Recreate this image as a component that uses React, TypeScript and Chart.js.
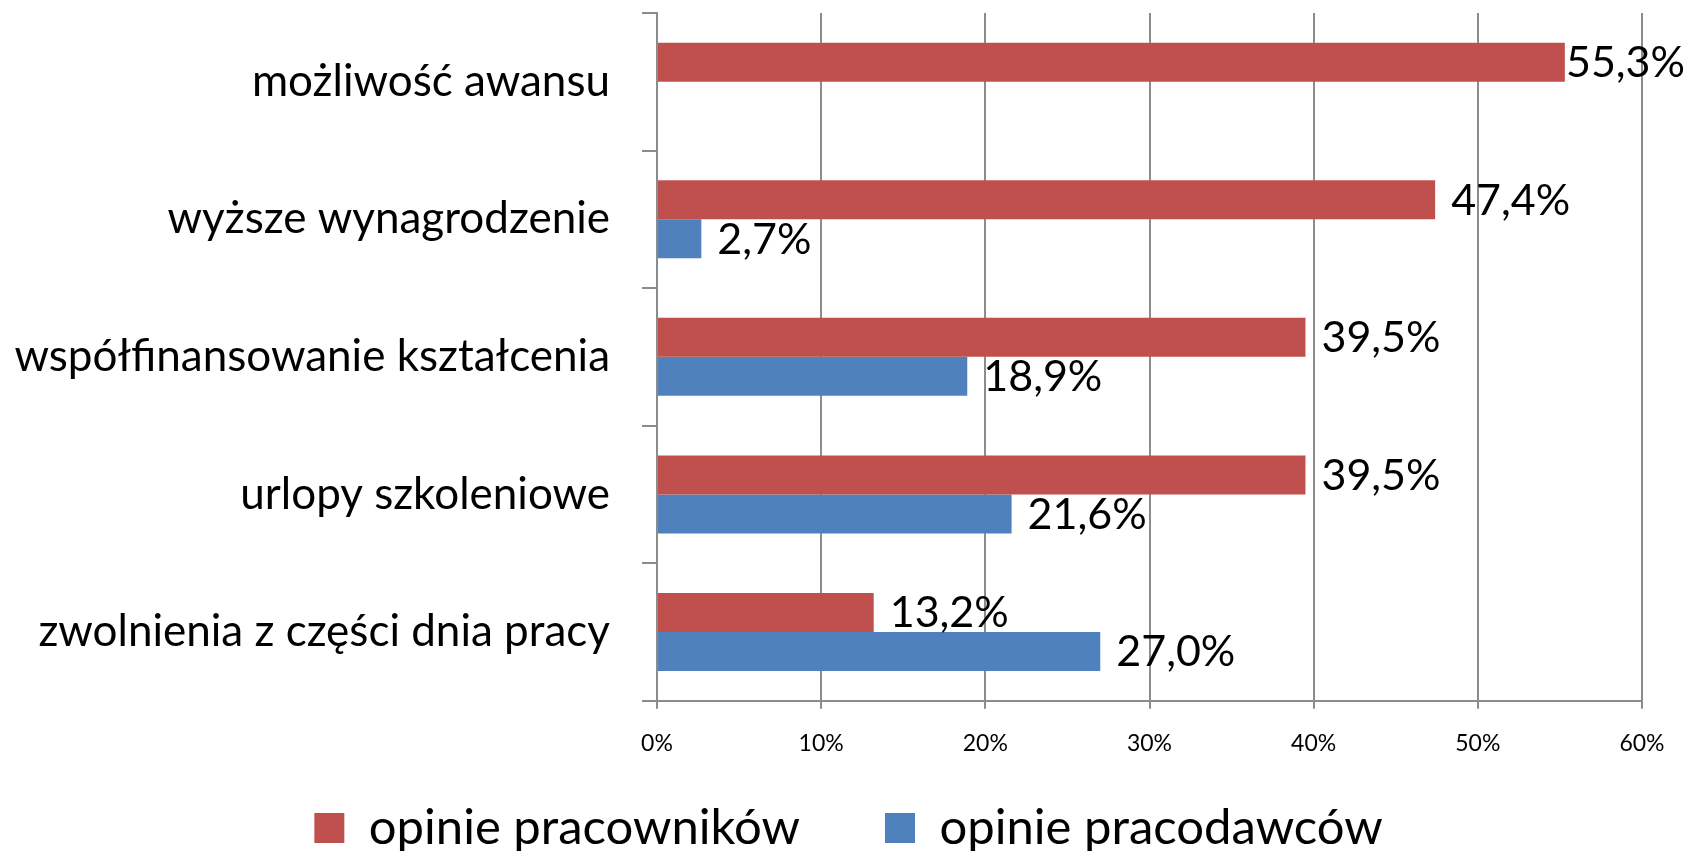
import { useEffect, useRef } from "react";
import { Chart, registerables } from "chart.js";

Chart.register(...registerables);

// ---- data ----
const categories = [
  "możliwość awansu",
  "wyższe wynagrodzenie",
  "współfinansowanie kształcenia",
  "urlopy szkoleniowe",
  "zwolnienia z części dnia pracy",
];
const seriesNames = ["opinie pracowników", "opinie pracodawców"];
const employeeShares: (number | null)[] = [55.3, 47.4, 39.5, 39.5, 13.2];
const employerShares: (number | null)[] = [null, 2.7, 18.9, 21.6, 27.0];
const axisMin = 0;
const axisMax = 60;
const axisStep = 10;

// ---- style / layout ----
const W = 1690;
const FONT = "Lato, 'Open Sans', sans-serif";
const RED = "#C0504D";
const BLUE = "#4F81BD";
const GRID = "#8c8c8c";
const CAT_FONT = 44;
const TICK_FONT = 23;
const VALUE_FONT = 43;
const LEGEND_FONT = 49;
const LEGEND_GAP = 85;
const LEGEND_CENTER = 828;
const PLOT_TOP = 13;
const PLOT_LEFT = 657;
const PLOT_RIGHT = 1642;
const PLOT_BOTTOM = 700.7;
const LEFT_PAD = 7;
const X_AXIS_H = 60;
const LEGEND_H = LEGEND_FONT + LEGEND_GAP + 10;
const H = Math.ceil(PLOT_BOTTOM + X_AXIS_H + LEGEND_H);
const LEGEND_TOP = LEGEND_CENTER - LEGEND_GAP - LEGEND_FONT / 2;

const fmt = (v: number) => v.toFixed(1).replace(".", ",") + "%";

const valueLabels = {
  id: "valueLabels",
  afterDatasetsDraw(chart: any) {
    const ctx = chart.ctx;
    ctx.save();
    ctx.font = `${VALUE_FONT}px ${FONT}`;
    ctx.fillStyle = "#000";
    ctx.textBaseline = "middle";
    ctx.textAlign = "left";
    chart.data.datasets.forEach((ds: any, di: number) => {
      const meta = chart.getDatasetMeta(di);
      meta.data.forEach((el: any, i: number) => {
        const v = ds.data[i];
        if (v == null) return;
        const text = fmt(v);
        const w = ctx.measureText(text).width;
        const x = Math.min(el.x + 16, W - 5 - w);
        ctx.fillText(text, x, el.y + 1);
      });
    });
    ctx.restore();
  },
};

// place the legend row where the reference has it
const legendPlacer = {
  id: "legendPlacer",
  afterLayout(chart: any) {
    const lg = chart.legend;
    if (!lg) return;
    const dy = LEGEND_TOP - lg.top;
    lg.top += dy;
    lg.bottom += dy;
  },
};

export default function App() {
  const ref = useRef<HTMLCanvasElement | null>(null);
  useEffect(() => {
    if (!ref.current) return;
    const chart = new Chart(ref.current, {
      type: "bar",
      data: {
        labels: categories,
        datasets: [
          {
            label: seriesNames[0],
            data: employeeShares,
            backgroundColor: RED,
            borderWidth: 0,
            barPercentage: 1,
            categoryPercentage: 0.567,
          },
          {
            label: seriesNames[1],
            data: employerShares,
            backgroundColor: BLUE,
            borderWidth: 0,
            barPercentage: 1,
            categoryPercentage: 0.567,
          },
        ],
      },
      options: {
        indexAxis: "y",
        responsive: false,
        animation: false,
        layout: { padding: { top: PLOT_TOP, left: LEFT_PAD, right: 0, bottom: 0 } },
        scales: {
          x: {
            type: "linear",
            min: axisMin,
            max: axisMax,
            afterFit: (s: any) => {
              s.height = H - LEGEND_H - PLOT_BOTTOM;
              s.paddingRight = W - PLOT_RIGHT;
            },
            ticks: {
              stepSize: axisStep,
              maxRotation: 0,
              padding: 21,
              color: "#000",
              font: { family: FONT, size: TICK_FONT },
              callback: (v: any) => `${v}%`,
            },
            grid: {
              color: GRID,
              lineWidth: 2,
              tickLength: 8,
              drawOnChartArea: true,
            },
            border: { display: true, color: GRID, width: 2 },
          },
          y: {
            type: "category",
            afterFit: (s: any) => {
              s.width = PLOT_LEFT - LEFT_PAD;
              s.paddingTop = 0;
              s.paddingBottom = 0;
            },
            ticks: {
              padding: 32,
              color: "#000",
              autoSkip: false,
              font: { family: FONT, size: CAT_FONT },
            },
            grid: {
              color: GRID,
              lineWidth: 2,
              drawOnChartArea: false,
              drawTicks: true,
              tickLength: 15,
              offset: true,
            },
            border: { display: true, color: GRID, width: 2 },
          },
        },
        plugins: {
          legend: {
            position: "bottom",
            labels: {
              boxWidth: 30,
              boxHeight: 30,
              padding: LEGEND_GAP,
              color: "#000",
              font: { family: FONT, size: LEGEND_FONT },
            },
          },
          tooltip: { enabled: false },
        },
      },
      plugins: [valueLabels, legendPlacer],
    });
    return () => chart.destroy();
  }, []);
  return (
    <div style={{ position: "fixed", left: 0, top: 0, width: W, height: H, background: "#fff" }}>
      <canvas ref={ref} width={W} height={H} style={{ display: "block" }} />
    </div>
  );
}
